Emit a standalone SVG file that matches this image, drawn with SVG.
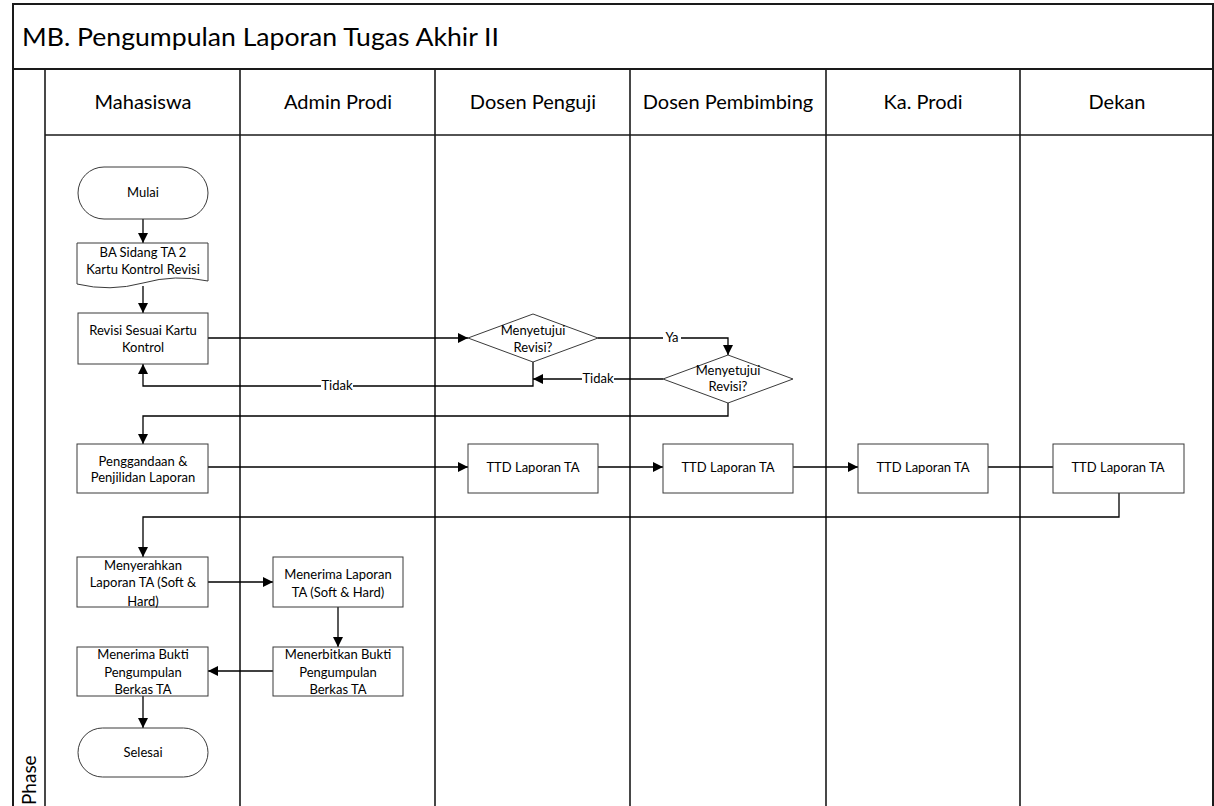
<svg xmlns="http://www.w3.org/2000/svg" width="1214" height="806" viewBox="0 0 1214 806">
<style>
.frame{fill:none;stroke:#1a1a1a;stroke-width:2}
.lane{stroke:#1a1a1a;stroke-width:1.6}
.node{fill:#fff;stroke:#3a3a3a;stroke-width:1}
.t{font-family:Lato,"Liberation Sans",sans-serif;font-size:13px;fill:#000;text-anchor:middle}
.h{font-family:Lato,"Liberation Sans",sans-serif;font-size:20px;fill:#000;text-anchor:middle}
.title{font-family:Lato,"Liberation Sans",sans-serif;font-size:25px;fill:#000}
.c{fill:none;stroke:#000;stroke-width:1.3}
.lbl{font-family:Lato,"Liberation Sans",sans-serif;font-size:13px;fill:#000;text-anchor:middle}
</style>
<defs>
<marker id="arr" viewBox="0 0 10 10" refX="10" refY="5" markerWidth="10" markerHeight="10" markerUnits="userSpaceOnUse" orient="auto">
<path d="M0,0 L10,5 L0,10 z" fill="#000"/>
</marker>
</defs>
<rect width="1214" height="806" fill="#fff"/>
<g id="pool">
<path class="frame" d="M13,806 V4 H1213 V806"/>
<line class="frame" x1="13" y1="69" x2="1213" y2="69"/>
<line class="lane" x1="45" y1="135" x2="1213" y2="135"/>
<line class="lane" x1="45" y1="69" x2="45" y2="806"/>
<line class="lane" x1="240" y1="69" x2="240" y2="806"/>
<line class="lane" x1="435" y1="69" x2="435" y2="806"/>
<line class="lane" x1="630" y1="69" x2="630" y2="806"/>
<line class="lane" x1="826" y1="69" x2="826" y2="806"/>
<line class="lane" x1="1020" y1="69" x2="1020" y2="806"/>
<text class="title" x="22" y="46" textLength="477" lengthAdjust="spacingAndGlyphs">MB. Pengumpulan Laporan Tugas Akhir II</text>
<text class="h" x="143" y="109">Mahasiswa</text>
<text class="h" x="338" y="109">Admin Prodi</text>
<text class="h" x="533" y="109">Dosen Penguji</text>
<text class="h" x="728" y="109">Dosen Pembimbing</text>
<text class="h" x="923" y="109">Ka. Prodi</text>
<text class="h" x="1117" y="109">Dekan</text>
<text class="h" transform="translate(36,805) rotate(-90)" style="text-anchor:start;font-size:19px">Phase</text>
</g>
<g id="connectors">
<line class="c" x1="143" y1="219" x2="143" y2="243" marker-end="url(#arr)"/>
<line class="c" x1="143" y1="286" x2="143" y2="313" marker-end="url(#arr)"/>
<line class="c" x1="208" y1="338" x2="468" y2="338" marker-end="url(#arr)"/>
<polyline class="c" points="598,338 728,338 728,355" marker-end="url(#arr)"/>
<line class="c" x1="663" y1="379" x2="533" y2="379" marker-end="url(#arr)"/>
<polyline class="c" points="533,362 533,386 143,386 143,364" marker-end="url(#arr)"/>
<polyline class="c" points="728,403 728,416 143,416 143,444" marker-end="url(#arr)"/>
<line class="c" x1="208" y1="467" x2="468" y2="467" marker-end="url(#arr)"/>
<line class="c" x1="598" y1="467" x2="663" y2="467" marker-end="url(#arr)"/>
<line class="c" x1="793" y1="467" x2="858" y2="467" marker-end="url(#arr)"/>
<line class="c" x1="988" y1="467" x2="1053" y2="467"/>
<polyline class="c" points="1119,493 1119,517 143,517 143,557" marker-end="url(#arr)"/>
<line class="c" x1="208" y1="582" x2="273" y2="582" marker-end="url(#arr)"/>
<line class="c" x1="338" y1="607" x2="338" y2="647" marker-end="url(#arr)"/>
<line class="c" x1="273" y1="671" x2="208" y2="671" marker-end="url(#arr)"/>
<line class="c" x1="143" y1="696" x2="143" y2="728" marker-end="url(#arr)"/>
<rect x="663" y="331" width="18" height="14" fill="#fff"/>
<text class="lbl" x="672" y="342">Ya</text>
<rect x="582" y="372" width="32" height="14" fill="#fff"/>
<text class="lbl" x="598" y="383">Tidak</text>
<rect x="321" y="379" width="32" height="14" fill="#fff"/>
<text class="lbl" x="337" y="390">Tidak</text>
</g>
<g id="mulai">
<rect class="node" x="78" y="167" width="130" height="52" rx="26"/>
<text class="t" x="143" y="197">Mulai</text>
</g>
<g id="ba-sidang">
<path class="node" d="M77,243 H208 V281 Q175,274 143,283 Q110,292 77,284 Z"/>
<text class="t" x="143" y="257">BA Sidang TA 2</text>
<text class="t" x="143" y="274">Kartu Kontrol Revisi</text>
</g>
<g id="revisi">
<rect class="node" x="78" y="313" width="130" height="51"/>
<text class="t" x="143" y="335">Revisi Sesuai Kartu</text>
<text class="t" x="143" y="352">Kontrol</text>
</g>
<g id="d1">
<polygon class="node" points="468,338 533,314 598,338 533,362"/>
<text class="t" x="533" y="335">Menyetujui</text>
<text class="t" x="533" y="352">Revisi?</text>
</g>
<g id="d2">
<polygon class="node" points="663,379 728,355 793,379 728,403"/>
<text class="t" x="728" y="375">Menyetujui</text>
<text class="t" x="728" y="391">Revisi?</text>
</g>
<g id="penggandaan">
<rect class="node" x="77" y="444" width="131" height="49"/>
<text class="t" x="143" y="466">Penggandaan &amp;</text>
<text class="t" x="143" y="482">Penjilidan Laporan</text>
</g>
<g id="ttd-penguji">
<rect class="node" x="468" y="444" width="130" height="49"/>
<text class="t" x="533" y="472">TTD Laporan TA</text>
</g>
<g id="ttd-pembimbing">
<rect class="node" x="663" y="444" width="130" height="49"/>
<text class="t" x="728" y="472">TTD Laporan TA</text>
</g>
<g id="ttd-kaprodi">
<rect class="node" x="858" y="444" width="130" height="49"/>
<text class="t" x="923" y="472">TTD Laporan TA</text>
</g>
<g id="ttd-dekan">
<rect class="node" x="1053" y="444" width="131" height="49"/>
<text class="t" x="1118" y="472">TTD Laporan TA</text>
</g>
<g id="menyerahkan">
<rect class="node" x="77" y="557" width="131" height="50"/>
<text class="t" x="143" y="570">Menyerahkan</text>
<text class="t" x="143" y="587">Laporan TA (Soft &amp;</text>
<text class="t" x="143" y="606">Hard)</text>
</g>
<g id="menerima-laporan">
<rect class="node" x="273" y="557" width="130" height="50"/>
<text class="t" x="338" y="579">Menerima Laporan</text>
<text class="t" x="338" y="597">TA (Soft &amp; Hard)</text>
</g>
<g id="menerbitkan">
<rect class="node" x="273" y="647" width="130" height="49"/>
<text class="t" x="338" y="659">Menerbitkan Bukti</text>
<text class="t" x="338" y="677">Pengumpulan</text>
<text class="t" x="338" y="694">Berkas TA</text>
</g>
<g id="menerima-bukti">
<rect class="node" x="77" y="647" width="131" height="49"/>
<text class="t" x="143" y="659">Menerima Bukti</text>
<text class="t" x="143" y="677">Pengumpulan</text>
<text class="t" x="143" y="694">Berkas TA</text>
</g>
<g id="selesai">
<rect class="node" x="78" y="728" width="130" height="49" rx="24.5"/>
<text class="t" x="143" y="757">Selesai</text>
</g>
</svg>
